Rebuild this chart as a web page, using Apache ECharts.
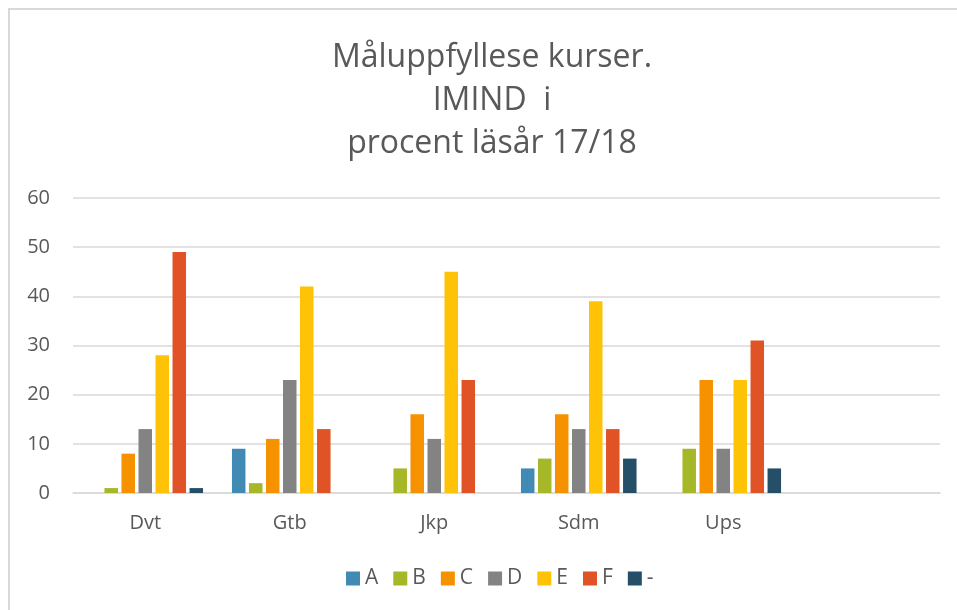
<!DOCTYPE html>
<html>
<head>
<meta charset="utf-8">
<script src="https://cdn.jsdelivr.net/npm/echarts@6/dist/echarts.min.js"></script>
<style>
  html, body { margin: 0; padding: 0; background: #fff; }
  #chart { width: 957px; height: 610px; }
</style>
</head>
<body>
<div id="chart"></div>
<script>
// kategorier (sista är tom i originalet)
var courses = ['Dvt', 'Gtb', 'Jkp', 'Sdm', 'Ups', ''];
var grades = ['A', 'B', 'C', 'D', 'E', 'F', '-'];
var colors = ['#418AB3', '#A6B727', '#F69200', '#838383', '#FEC306', '#DF5327', '#254E68'];

// värden per betyg, i procent
var gradeA = [0, 9, 0, 5, 0];
var gradeB = [1, 2, 5, 7, 9];
var gradeC = [8, 11, 16, 16, 23];
var gradeD = [13, 23, 11, 13, 9];
var gradeE = [28, 42, 45, 39, 23];
var gradeF = [49, 13, 23, 13, 31];
var gradeDash = [1, 0, 0, 7, 5];

var yTicks = [0, 10, 20, 30, 40, 50, 60];

var allValues = [gradeA, gradeB, gradeC, gradeD, gradeE, gradeF, gradeDash];
var textColor = '#595959';
var fontFam = '"Open Sans", sans-serif';

var series = [];
for (var i = 0; i < grades.length; i++) {
    series.push({
        name: grades[i],
        type: 'bar',
        barCategoryGap: '20%',
        barGap: '26%',
        itemStyle: { color: colors[i] },
        data: allValues[i]
    });
}

var myChart = echarts.init(document.getElementById('chart'));
var option = {
    animation: false,
    color: colors,
    title: {
        text: 'Måluppfyllese kurser.\nIMIND  i\nprocent läsår 17/18',
        left: 487,
        top: 31,
        textAlign: 'center',
        textStyle: {
            color: textColor,
            fontFamily: fontFam,
            fontSize: 32,
            fontWeight: 'normal',
            lineHeight: 43
        }
    },
    legend: {
        bottom: 16,
        left: 341,
        itemWidth: 14,
        itemHeight: 14,
        itemGap: 15,
        icon: 'rect',
        textStyle: { color: textColor, fontFamily: fontFam, fontSize: 21 },
        data: grades
    },
    grid: { left: 73, right: 17, top: 198, bottom: 117, containLabel: false },
    xAxis: {
        type: 'category',
        data: courses,
        axisLine: { lineStyle: { color: '#d9d9d9', width: 1.5 } },
        axisTick: { show: false },
        axisLabel: { color: textColor, fontFamily: fontFam, fontSize: 20, margin: 20 }
    },
    yAxis: {
        type: 'value',
        min: yTicks[0],
        max: yTicks[yTicks.length - 1],
        interval: 10,
        axisLine: { show: false },
        axisTick: { show: false },
        splitLine: { lineStyle: { color: '#d9d9d9', width: 1.5 } },
        axisLabel: { color: textColor, fontFamily: fontFam, fontSize: 20, margin: 23 }
    },
    graphic: [{
        type: 'rect',
        shape: { x: 9, y: 9, width: 1000, height: 700 },
        style: { fill: 'none', stroke: '#d9d9d9', lineWidth: 2 },
        silent: true
    }],
    series: series
};
myChart.setOption(option);
</script>
</body>
</html>
